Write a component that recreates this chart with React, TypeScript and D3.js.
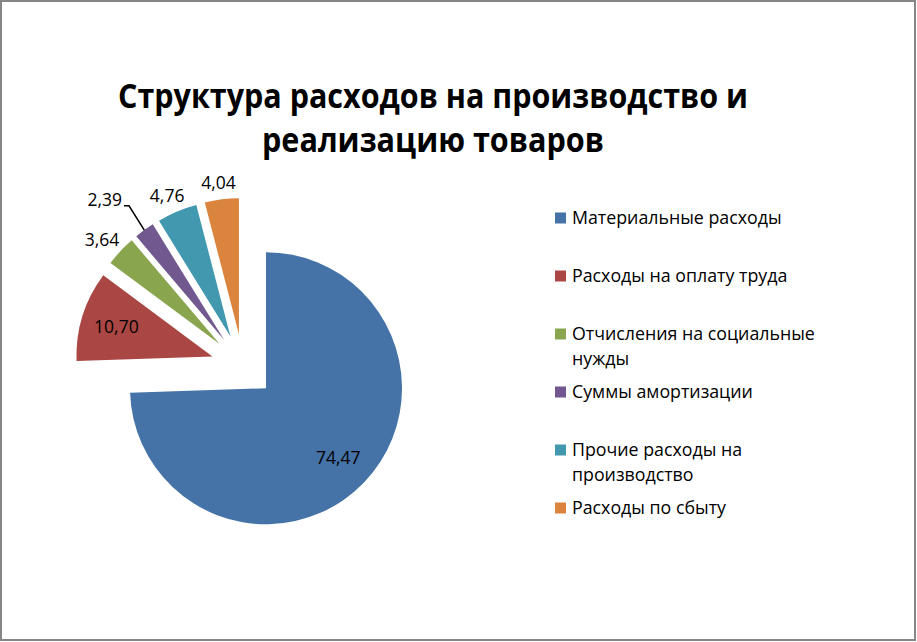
import * as d3 from 'd3';
import * as React from 'react';

const categories = [
  'Материальные расходы',
  'Расходы на оплату труда',
  'Отчисления на социальные нужды',
  'Суммы амортизации',
  'Прочие расходы на производство',
  'Расходы по сбыту',
];
const values = [74.47, 10.7, 3.64, 2.39, 4.76, 4.04];
const colors = ['#4572A7', '#AA4643', '#89A54E', '#71588F', '#4198AF', '#DB843D'];
const titleLines = ['Структура расходов на производство и', 'реализацию товаров'];

const W = 917;
const H = 642;
const FONT = '"Open Sans", "DejaVu Sans", sans-serif';

const cx = 243;
const cy = 366;
const radius = 136;
const explode = 32;

const legendX = 555;
const legendY0 = 218;
const legendStep = 58;
const legendLine = 25;
const legendMaxWidth = 255;
const legendFontSize = 17.8;

let canvasCtx: CanvasRenderingContext2D | null = null;
function measure(text: string, font: string) {
  if (!canvasCtx) canvasCtx = document.createElement('canvas').getContext('2d');
  canvasCtx!.font = font;
  return canvasCtx!.measureText(text).width;
}

function wrap(text: string, maxWidth: number) {
  const words = text.split(' ');
  const lines: string[] = [];
  let cur = '';
  words.forEach((w) => {
    const next = cur ? cur + ' ' + w : w;
    if (cur && measure(next, `${legendFontSize}px ${FONT}`) > maxWidth) {
      lines.push(cur);
      cur = w;
    } else {
      cur = next;
    }
  });
  if (cur) lines.push(cur);
  return lines;
}

const fmt = (v: number) => v.toFixed(2).replace('.', ',');

export default function App() {
  const pie = d3.pie<number>().sort(null).value((d) => d);
  const arcs = pie(values);
  const arcGen = d3.arc<d3.PieArcDatum<number>>().innerRadius(0).outerRadius(radius);

  const labelSize = 17.5;

  return (
    <svg
      width={W}
      height={H}
      style={{ position: 'absolute', left: 0, top: 0, background: '#fff' }}
      fontFamily={FONT}
    >
      <rect x={1} y={1} width={W - 3} height={H - 3} fill="#fff" stroke="#868686" strokeWidth={2} />

      <g fontWeight="bold" fontSize={34} textAnchor="middle" fill="#000">
        <text x={433} y={108} textLength={630} lengthAdjust="spacingAndGlyphs">
          {titleLines[0]}
        </text>
        <text x={433} y={152} textLength={342} lengthAdjust="spacingAndGlyphs">
          {titleLines[1]}
        </text>
      </g>

      {arcs.map((a, i) => {
        const mid = (a.startAngle + a.endAngle) / 2;
        const dx = Math.sin(mid);
        const dy = -Math.cos(mid);
        const ox = cx + dx * explode;
        const oy = cy + dy * explode;
        return (
          <g key={i} transform={`translate(${ox},${oy})`}>
            <path d={arcGen(a) || ''} fill={colors[i]} />
          </g>
        );
      })}

      {arcs.map((a, i) => {
        const mid = (a.startAngle + a.endAngle) / 2;
        const dx = Math.sin(mid);
        const dy = -Math.cos(mid);
        const ox = cx + dx * explode;
        const oy = cy + dy * explode;
        const text = fmt(values[i]);
        const tw = measure(text, `${labelSize}px ${FONT}`);
        const th = 18;
        if (values[i] >= 10) {
          const lx = ox + dx * radius * 0.74;
          const ly = oy + dy * radius * 0.74;
          return (
            <text key={i} x={lx} y={ly} dy="0.35em" textAnchor="middle" fontSize={labelSize} fill="#000">
              {text}
            </text>
          );
        }
        if (values[i] < 3) {
          // too thin: pull label out with a leader line
          const px = ox + dx * radius;
          const py = oy + dy * radius;
          const ex = px + dx * 26;
          const ey = py + dy * 30;
          const hx = ex - 5;
          return (
            <g key={i}>
              <path d={`M${px},${py}L${ex},${ey}L${hx},${ey}`} fill="none" stroke="#000" strokeWidth={1.5} />
              <text x={hx - 2} y={ey - 6} dy="0.35em" textAnchor="end" fontSize={labelSize} fill="#000">
                {text}
              </text>
            </g>
          );
        }
        const px = ox + dx * (radius + 8);
        const py = oy + dy * (radius + 8);
        const lx = px + (dx * tw) / 2;
        const ly = py + (dy * th) / 2;
        return (
          <text key={i} x={lx} y={ly} dy="0.35em" textAnchor="middle" fontSize={labelSize} fill="#000">
            {text}
          </text>
        );
      })}

      <g fontSize={legendFontSize} fill="#000">
        {categories.map((c, i) => {
          const y = legendY0 + i * legendStep;
          const lines = wrap(c, legendMaxWidth);
          return (
            <g key={i}>
              <rect x={legendX} y={y - 5.5} width={11} height={11} fill={colors[i]} />
              <text x={legendX + 17} y={y} dy="0.35em">
                {lines.map((l, j) => (
                  <tspan key={j} x={legendX + 17} dy={j === 0 ? '0.35em' : legendLine}>
                    {l}
                  </tspan>
                ))}
              </text>
            </g>
          );
        })}
      </g>
    </svg>
  );
}
